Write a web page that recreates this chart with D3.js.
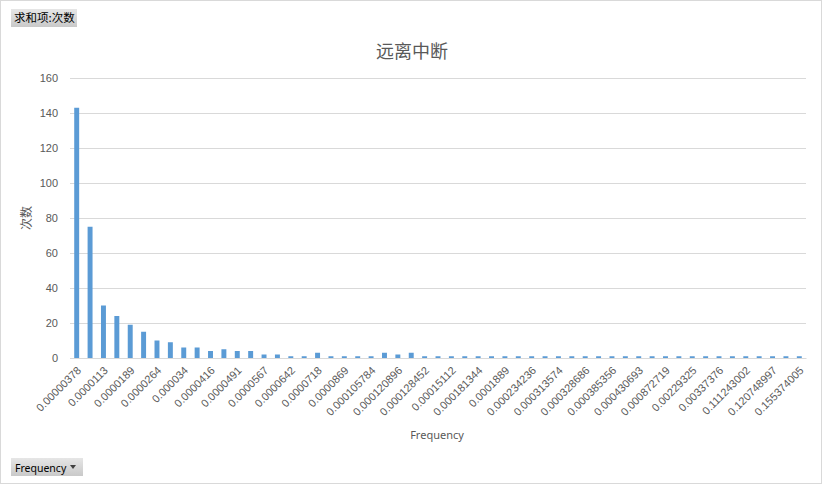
<!DOCTYPE html>
<html>
<head>
<meta charset="utf-8">
<script src="https://cdn.jsdelivr.net/npm/d3@7"></script>
<style>
  body { margin: 0; background: #fff; }
  svg { display: block; font-family: "Noto Sans", "Noto Sans CJK SC", sans-serif; }
</style>
</head>
<body>
<div id="chart"></div>
<script>
// category labels (only every other one is printed on the axis)
var categories = [
    "0.00000378", "0.00000756", "0.0000113", "0.0000151", "0.0000189",
    "0.0000227", "0.0000264", "0.0000302", "0.000034", "0.0000378",
    "0.0000416", "0.0000454", "0.0000491", "0.0000529", "0.0000567",
    "0.0000605", "0.0000642", "0.000068", "0.0000718", "0.0000794",
    "0.0000869", "0.0000945", "0.000105784", "0.00011334", "0.000120896",
    "0.000124674", "0.000128452", "0.000143564", "0.00015112", "0.000166232",
    "0.000181344", "0.000185122", "0.0001889", "0.000215344", "0.000234236",
    "0.000279572", "0.000313574", "0.00032113", "0.000328686", "0.000355134",
    "0.000385356", "0.000411802", "0.000430693", "0.000649916", "0.000872719",
    "0.00120896", "0.00229325", "0.00283768", "0.00337376", "0.0567812",
    "0.111243002", "0.116839001", "0.120748997", "0.138297", "0.155374005"
];

var counts = [
    143, 75, 30, 24, 19, 15, 10, 9, 6, 6,
    4, 5, 4, 4, 2, 2, 1, 1, 3, 1,
    1, 1, 1, 3, 2, 3, 1, 1, 1, 1,
    1, 1, 1, 1, 1, 1, 1, 1, 1, 1,
    1, 1, 1, 1, 1, 1, 1, 1, 1, 1,
    1, 1, 1, 1, 1
];

var yTicks = [0, 20, 40, 60, 80, 100, 120, 140, 160];

var width = 823,
    height = 485;

var svg = d3.select('#chart').append('svg')
    .attr('width', width)
    .attr('height', height);

// outer frame
svg.append('rect')
    .attr('x', 0.5).attr('y', 0.5)
    .attr('width', width - 2).attr('height', height - 2)
    .attr('fill', '#fff')
    .attr('stroke', '#d9d9d9');

var x = d3.scaleBand()
    .domain(d3.range(categories.length))
    .range([70, 806])
    .paddingInner(0.63)
    .paddingOuter(0.315);

var y = d3.scaleLinear()
    .domain([0, 160])
    .range([358, 78]);

// gridlines + y labels
var yAxis = svg.append('g')
    .attr('transform', 'translate(70,0)')
    .call(d3.axisLeft(y).tickValues(yTicks).tickSize(-(806 - 70)).tickPadding(12));
yAxis.select('.domain').remove();
yAxis.selectAll('.tick line').attr('stroke', '#d9d9d9');
yAxis.selectAll('.tick text')
    .attr('fill', '#595959')
    .attr('font-size', '11px');

// bars
svg.append('g').selectAll('rect')
    .data(counts)
    .enter().append('rect')
    .attr('x', function(d, i) { return x(i); })
    .attr('y', function(d) { return y(d); })
    .attr('width', x.bandwidth())
    .attr('height', function(d) { return y(0) - y(d); })
    .attr('fill', '#5b9bd5');

// x axis, labels on every other bar
var xAxis = svg.append('g')
    .attr('transform', 'translate(0,' + y(0) + ')')
    .call(d3.axisBottom(x)
        .tickValues(d3.range(0, categories.length, 2))
        .tickFormat(function(i) { return categories[i]; })
        .tickSize(0));
xAxis.select('.domain').attr('stroke', '#d9d9d9');
xAxis.selectAll('.tick text')
    .attr('fill', '#595959')
    .attr('font-size', '11px')
    .attr('text-anchor', 'end')
    .attr('dy', 0)
    .attr('transform', 'translate(3,11) rotate(-45)');

// titles
svg.append('text')
    .attr('x', 412).attr('y', 58)
    .attr('text-anchor', 'middle')
    .attr('font-family', '"Noto Sans CJK SC", sans-serif')
    .attr('font-size', '18px')
    .attr('fill', '#595959')
    .text('远离中断');

svg.append('text')
    .attr('transform', 'translate(31,218) rotate(-90)')
    .attr('text-anchor', 'middle')
    .attr('font-family', '"Noto Sans CJK SC", sans-serif')
    .attr('font-size', '12px')
    .attr('fill', '#595959')
    .text('次数');

svg.append('text')
    .attr('x', 437).attr('y', 439)
    .attr('text-anchor', 'middle')
    .attr('font-size', '11px')
    .attr('fill', '#595959')
    .text('Frequency');

// pivot field buttons
var grad = svg.append('defs').append('linearGradient')
    .attr('id', 'btn')
    .attr('x1', 0).attr('y1', 0).attr('x2', 0).attr('y2', 1);
grad.append('stop').attr('offset', '0%').attr('stop-color', '#e6e6e6');
grad.append('stop').attr('offset', '100%').attr('stop-color', '#c9c9c9');

svg.append('rect')
    .attr('x', 11).attr('y', 9).attr('width', 66).attr('height', 18)
    .attr('fill', 'url(#btn)');
svg.append('text')
    .attr('x', 14).attr('y', 22)
    .attr('font-family', '"Noto Sans CJK SC", sans-serif')
    .attr('font-size', '11.5px')
    .attr('fill', '#000')
    .text('求和项:次数');

svg.append('rect')
    .attr('x', 11).attr('y', 458).attr('width', 72).attr('height', 18)
    .attr('fill', 'url(#btn)');
svg.append('text')
    .attr('x', 15).attr('y', 471.5)
    .attr('font-size', '10.5px')
    .attr('fill', '#000')
    .text('Frequency');
svg.append('path')
    .attr('d', 'M70,465 L76,465 L73,469 Z')
    .attr('fill', '#404040');
</script>
</body>
</html>
